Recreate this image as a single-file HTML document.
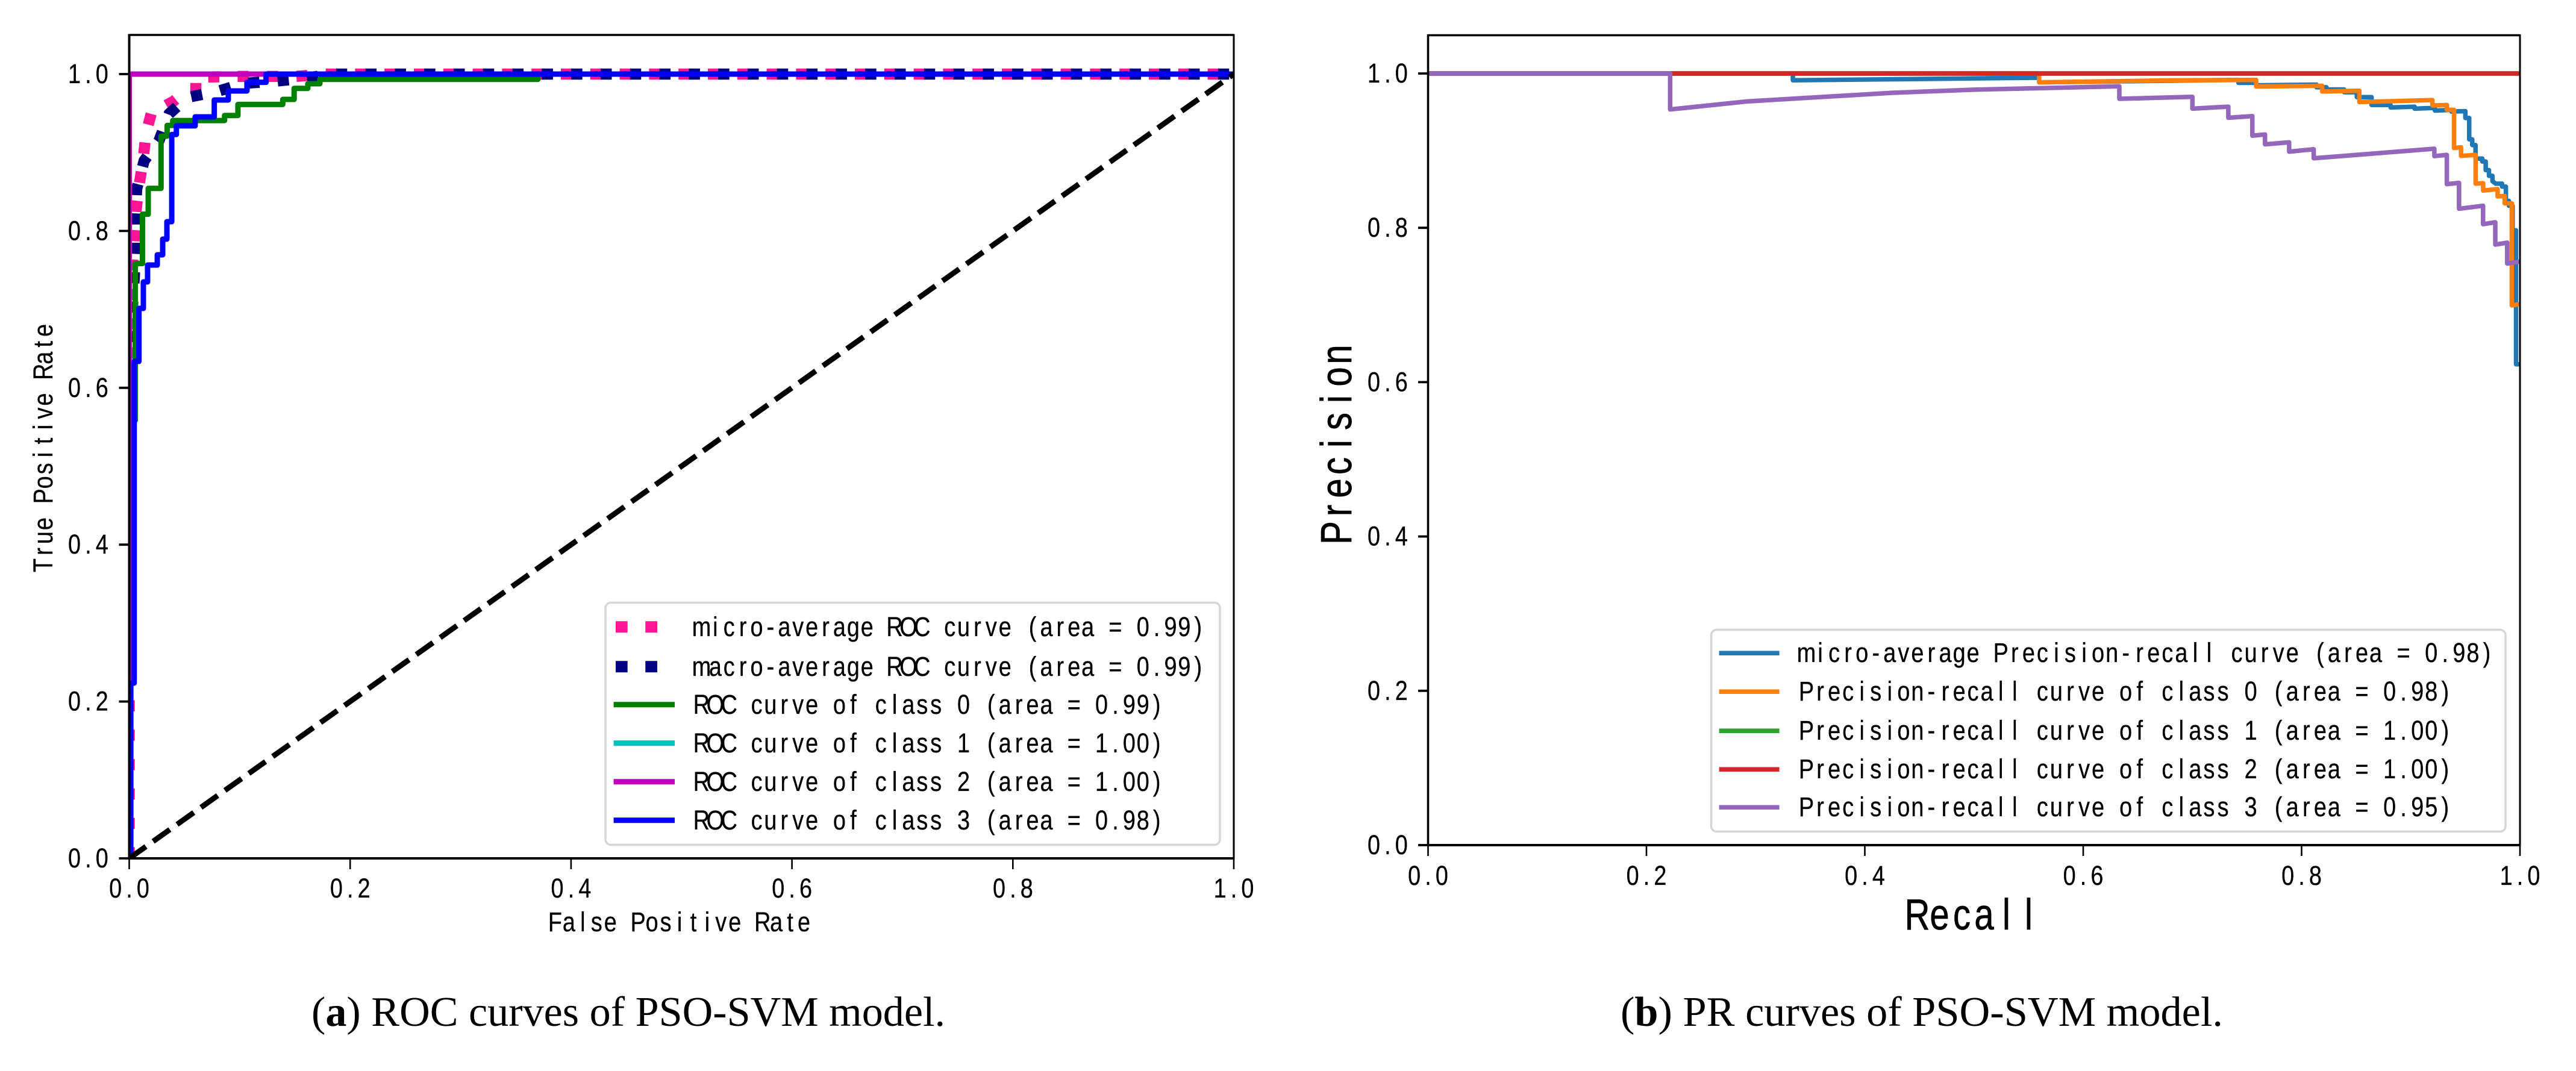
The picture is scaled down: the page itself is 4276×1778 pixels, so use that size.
<!DOCTYPE html>
<html>
<head>
<meta charset="utf-8">
<title>ROC and PR curves of PSO-SVM model</title>
<style>
html,body{margin:0;padding:0;background:#fff;}
svg{display:block;}
text{white-space:pre;fill:#000;}
</style>
</head>
<body>
<svg id="figure" xmlns="http://www.w3.org/2000/svg" width="4276" height="1778" viewBox="0 0 4276 1778">
<defs>
<clipPath id="roc-clip"><rect x="214.5" y="58" width="1833.5" height="1367"/></clipPath>
<clipPath id="pr-clip"><rect x="2370.5" y="58" width="1812.5" height="1345"/></clipPath>
</defs>
<rect width="4276" height="1778" fill="#fff"/>
<g id="roc-chart"></g>
<g id="pr-chart"></g>
<text x="517" y="1703" font-family="'Liberation Serif',serif" font-size="70" textLength="1052" lengthAdjust="spacingAndGlyphs">(<tspan font-weight="bold">a</tspan>) ROC curves of PSO-SVM model.</text>
<text x="2690" y="1703" font-family="'Liberation Serif',serif" font-size="70" textLength="1000" lengthAdjust="spacingAndGlyphs">(<tspan font-weight="bold">b</tspan>) PR curves of PSO-SVM model.</text>
</svg>
<script>
// ---------- chart data ----------
const tickValues = [0, 0.2, 0.4, 0.6, 0.8, 1.0];
const tickLabels = ['0.0', '0.2', '0.4', '0.6', '0.8', '1.0'];

const diagFpr = [0, 1];
const diagTpr = [0, 1];

const microFpr = [0, 0, .0014, .003, .0046, .0063, .009, .0128, .015, .0205, .0303, .0401, .0548, .0706, .0706, .0974, .1241, .1503, .1775, 1];
const microTpr = [0, .6797, .7181, .755, .7926, .8272, .8587, .8925, .924, .9524, .9578, .9654, .9816, .9816, .9962, .997, .997, .997, 1, 1];

const macroFpr = [0, .0008, .0019, .003, .0046, .0057, .0057, .0067, .0135, .027, .0361, .0526, .0788, .1043, .1312, .1577, .185, 1];
const macroTpr = [.546, .6336, .6682, .7043, .7404, .778, .8157, .8533, .8896, .9153, .9493, .9703, .9775, .9882, .9908, .9946, 1, 1];

const class0Fpr = [0, .0014, .0014, .0055, .0055, .012, .012, .0172, .0172, .0288, .0288, .0343, .0343, .0394, .0394, .0863, .0863, .0984, .0984, .139, .139, .1493, .1493, .1617, .1617, .1726, .1726, .37, .37, 1];
const class0Tpr = [0, 0, .5584, .5584, .7584, .7584, .8213, .8213, .8543, .8543, .9209, .9209, .9345, .9345, .9408, .9408, .9472, .9472, .9613, .9613, .9677, .9677, .9818, .9818, .9877, .9877, .9933, .9933, 1, 1];

const class1Fpr = [0, 0, 1];
const class1Tpr = [0, 1, 1];

const class2Fpr = [0, 0, 1];
const class2Tpr = [0, 1, 1];

const class3Fpr = [0, .0014, .0014, .0045, .0045, .0088, .0088, .0128, .0128, .0166, .0166, .0254, .0254, .0303, .0303, .0341, .0341, .0385, .0385, .0427, .0427, .0597, .0597, .077, .077, .0897, .0897, .1066, .1066, .1239, .1239, 1];
const class3Tpr = [0, 0, .2235, .2235, .6336, .6336, .7012, .7012, .735, .735, .7565, .7565, .7696, .7696, .7896, .7896, .8118, .8118, .923, .923, .934, .934, .9455, .9455, .967, .967, .9785, .9785, .9895, .9895, 1, 1];

const prMicroRecall = [0, .3341, .3341, .5596, .5596, .7422, .7422, .7584, .7584, .8137, .8137, .8227, .8227, .839, .839, .8506, .8506, .8641, .8641, .8815, .8815, .9035, .9035, .9221, .9221, .9372, .9372, .95, .95, .9535, .9535, .9563, .9563, .9593, .9593, .9655, .9655, .9686, .9686, .9716, .9716, .9748, .9748, .9778, .9836, .9836, .9871, .9871, .9899, .9899, .9932, .9932, .9964, .9964, 1];
const prMicroPrecision = [1, 1, .9912, .9945, .9885, .9917, .9879, .9879, .9847, .9856, .9821, .9821, .9793, .9793, .9757, .9757, .9694, .9694, .9592, .9592, .956, .957, .9544, .9554, .9519, .9528, .9506, .9512, .9423, .9423, .9146, .9146, .9073, .9073, .8897, .8897, .8859, .8859, .8748, .8748, .8674, .8674, .8604, .8572, .8572, .8534, .8534, .8349, .8349, .8286, .8286, .7967, .7967, .6231, .6231];

const prClass0Recall = [0, .5596, .5596, .6783, .7584, .7584, .8188, .8188, .8529, .8529, .9198, .9198, .9331, .9331, .9396, .9396, .946, .946, .9594, .9594, .9663, .9663, .9795, .9795, .986, .986, .9925, .9925, 1];
const prClass0Precision = [1, 1, .9885, .9911, .9917, .9831, .9841, .9767, .9777, .963, .9656, .9585, .9592, .9529, .9529, .9034, .9044, .8932, .8945, .8572, .8578, .8483, .8502, .8407, .8413, .8317, .8317, .6995, .7011];

const prClass1Recall = [0, 1];
const prClass1Precision = [1, 1];

const prClass2Recall = [0, 1];
const prClass2Precision = [1, 1];

const prClass3Recall = [0, .2217, .2217, .2921, .4257, .5, .6331, .6331, .7, .7, .7329, .7329, .7549, .7549, .7665, .7665, .7886, .7886, .8111, .8111, .9216, .9216, .933, .933, .9442, .9442, .9662, .9662, .9774, .9774, .9883, .9883, 1];
const prClass3Precision = [1, 1, .9534, .9638, .975, .979, .9834, .9672, .9697, .9544, .957, .9426, .9448, .9194, .921, .9082, .9108, .8987, .9018, .8901, .9025, .8929, .8945, .8566, .8582, .8247, .8286, .8047, .8072, .7782, .7808, .7537, .7562];

// ---------- axis functions ----------
const rocX = v => 214.5 + v * 1833.5;
const rocY = v => 1425 - v * 1302;
const prX = v => 2370.5 + v * 1812.5;
const prY = v => 1403 - v * 1281;

// ---------- drawing helpers ----------
const NS = 'http://www.w3.org/2000/svg';
const SANS = "'Liberation Sans','DejaVu Sans',sans-serif";

function monoText(str, x, y, pitch, size, sx, rot, heavy) {
  const t = document.createElementNS(NS, 'text');
  const xs = Array.from(str).map((c, i) => ((i + 0.5) * pitch / sx).toFixed(2)).join(' ');
  t.setAttribute('x', xs);
  t.setAttribute('y', '0');
  t.setAttribute('transform', 'translate(' + x + ' ' + y + ') rotate(' + rot + ') scale(' + sx + ' 1)');
  t.setAttribute('text-anchor', 'middle');
  t.setAttribute('font-family', SANS);
  t.setAttribute('font-size', size);
  t.setAttribute('stroke', '#000');
  t.setAttribute('stroke-width', heavy);
  t.textContent = str;
  return t;
}

function seg(x1, y1, x2, y2, color, width) {
  const l = document.createElementNS(NS, 'line');
  l.setAttribute('x1', x1);
  l.setAttribute('y1', y1);
  l.setAttribute('x2', x2);
  l.setAttribute('y2', y2);
  l.setAttribute('stroke', color);
  l.setAttribute('stroke-width', width);
  return l;
}

function curve(xs, ys, sx, sy, color, width, dash) {
  const p = document.createElementNS(NS, 'path');
  const d = xs.map((v, i) => (i ? 'L' : 'M') + sx(v).toFixed(2) + ' ' + sy(ys[i]).toFixed(2)).join(' ');
  p.setAttribute('d', d);
  p.setAttribute('fill', 'none');
  p.setAttribute('stroke', color);
  p.setAttribute('stroke-width', width);
  p.setAttribute('stroke-linejoin', dash ? 'miter' : 'round');
  p.setAttribute('stroke-linecap', dash ? 'butt' : 'round');
  if (dash) p.setAttribute('stroke-dasharray', dash);
  return p;
}

function clipGroup(parent, id) {
  const g = document.createElementNS(NS, 'g');
  g.setAttribute('clip-path', 'url(#' + id + ')');
  parent.appendChild(g);
  return g;
}

function legendBox(x, y, w, h) {
  const r = document.createElementNS(NS, 'rect');
  r.setAttribute('x', x);
  r.setAttribute('y', y);
  r.setAttribute('width', w);
  r.setAttribute('height', h);
  r.setAttribute('rx', 9);
  r.setAttribute('fill', '#fff');
  r.setAttribute('stroke', '#d6d6d6');
  r.setAttribute('stroke-width', 3.5);
  return r;
}

const PITCH = 22.9, FS = 45, SX = 0.84, HEAVY = 0.35;

// ---------- ROC chart ----------
const roc = document.getElementById('roc-chart');
const rocPlot = clipGroup(roc, 'roc-clip');



let el;
el = curve(microFpr, microTpr, rocX, rocY, '#ff1493', 18.5, '18.5 30.3');


rocPlot.appendChild(el);

el = curve(macroFpr, macroTpr, rocX, rocY, '#000080', 18.5, '18.5 30.3');


rocPlot.appendChild(el);

el = curve(class0Fpr, class0Tpr, rocX, rocY, '#008000', 9);


rocPlot.appendChild(el);

el = curve(class1Fpr, class1Tpr, rocX, rocY, '#00bfbf', 9);


rocPlot.appendChild(el);

el = curve(class2Fpr, class2Tpr, rocX, rocY, '#bf00bf', 9);


rocPlot.appendChild(el);

el = curve(class3Fpr, class3Tpr, rocX, rocY, '#0000ff', 9);


rocPlot.appendChild(el);

el = curve(diagFpr, diagTpr, rocX, rocY, '#000', 9, '34 14.7');


rocPlot.appendChild(el);

// ROC frame
el = seg(214.5, 58, 2048, 58, '#000', 3.5);


roc.appendChild(el);
el = seg(214.5, 1425, 2048, 1425, '#000', 4);


roc.appendChild(el);
el = seg(214.5, 56.5, 214.5, 1427, '#000', 4);


roc.appendChild(el);
el = seg(2048, 56.5, 2048, 1427, '#000', 3);


roc.appendChild(el);

tickValues.forEach((v, i) => {
  let e = seg(rocX(v), 1425, rocX(v), 1443, '#000', 2.6);
  
  
  roc.appendChild(e);
  e = monoText(tickLabels[i], rocX(v) - 34.3, 1490, PITCH, FS, SX, 0, HEAVY);
  
  
  roc.appendChild(e);
  e = seg(197.5, rocY(v), 214.5, rocY(v), '#000', 3.8);
  
  
  roc.appendChild(e);
  e = monoText(tickLabels[i], 112, rocY(v) + 15, PITCH, FS, SX, 0, HEAVY);
  
  
  roc.appendChild(e);
});

el = monoText('False Positive Rate', 910, 1546, 22.95, FS, SX, 0, HEAVY);


roc.appendChild(el);
el = monoText('True Positive Rate', 87, 950, 22.95, FS, SX, -90, HEAVY);


roc.appendChild(el);

// ROC legend
const rocLegend = document.createElementNS(NS, 'g');


roc.appendChild(rocLegend);
rocLegend.appendChild(legendBox(1005, 1000.5, 1020, 402));

const rocLegendLabels = [
  'micro-average ROC curve (area = 0.99)',
  'macro-average ROC curve (area = 0.99)',
  'ROC curve of class 0 (area = 0.99)',
  'ROC curve of class 1 (area = 1.00)',
  'ROC curve of class 2 (area = 1.00)',
  'ROC curve of class 3 (area = 0.98)'
];
const rocLegendColors = ['#ff1493', '#000080', '#008000', '#00bfbf', '#bf00bf', '#0000ff'];
const rocLegendBaselines = [1056, 1122, 1185, 1249, 1313, 1377];
rocLegendLabels.forEach((lab, i) => {
  const cy = rocLegendBaselines[i] - 15.3;
  let h;
  if (i < 2) {
    h = seg(1022, cy, 1091.5, cy, rocLegendColors[i], 19);
    h.setAttribute('stroke-dasharray', '19.7 29.6');
  } else {
    h = seg(1018.6, cy, 1120, cy, rocLegendColors[i], 9);
  }
  
  
  rocLegend.appendChild(h);
  const t = monoText(lab, 1153, rocLegendBaselines[i], 22.9, FS, SX, 0, HEAVY);
  
  
  rocLegend.appendChild(t);
});

// ---------- PR chart ----------
const pr = document.getElementById('pr-chart');
const prPlot = clipGroup(pr, 'pr-clip');



el = curve(prMicroRecall, prMicroPrecision, prX, prY, '#1f77b4', 7.5);


prPlot.appendChild(el);

el = curve(prClass0Recall, prClass0Precision, prX, prY, '#ff7f0e', 7.5);


prPlot.appendChild(el);

el = curve(prClass1Recall, prClass1Precision, prX, prY, '#2ca02c', 7.5);


prPlot.appendChild(el);

el = curve(prClass2Recall, prClass2Precision, prX, prY, '#d62728', 7.5);


prPlot.appendChild(el);

el = curve(prClass3Recall, prClass3Precision, prX, prY, '#9467bd', 7.5);


prPlot.appendChild(el);

// PR frame
el = seg(2370.5, 58.5, 4183, 58.5, '#000', 3.5);


pr.appendChild(el);
el = seg(2370.5, 1403, 4183, 1403, '#000', 4);


pr.appendChild(el);
el = seg(2370.5, 57, 2370.5, 1405, '#000', 3.6);


pr.appendChild(el);
el = seg(4183, 57, 4183, 1405, '#000', 3);


pr.appendChild(el);

tickValues.forEach((v, i) => {
  let e = seg(prX(v), 1403, prX(v), 1421, '#000', 2.6);
  
  
  pr.appendChild(e);
  e = monoText(tickLabels[i], prX(v) - 34.3, 1469, PITCH, FS, SX, 0, HEAVY);
  
  
  pr.appendChild(e);
  e = seg(2354, prY(v), 2370.5, prY(v), '#000', 3.8);
  
  
  pr.appendChild(e);
  e = monoText(tickLabels[i], 2269, prY(v) + 15, PITCH, FS, SX, 0, HEAVY);
  
  
  pr.appendChild(e);
});

el = monoText('Recall', 3164, 1543, 37, 72.5, 0.8, 0, 0.8);


pr.appendChild(el);
el = monoText('Precision', 2243, 903, 37, 72.5, 0.8, -90, 0.8);


pr.appendChild(el);

// PR legend
const prLegend = document.createElementNS(NS, 'g');


pr.appendChild(prLegend);
prLegend.appendChild(legendBox(2840.5, 1045.5, 1318.5, 335));

const prLegendLabels = [
  'micro-average Precision-recall curve (area = 0.98)',
  'Precision-recall curve of class 0 (area = 0.98)',
  'Precision-recall curve of class 1 (area = 1.00)',
  'Precision-recall curve of class 2 (area = 1.00)',
  'Precision-recall curve of class 3 (area = 0.95)'
];
const prLegendColors = ['#1f77b4', '#ff7f0e', '#2ca02c', '#d62728', '#9467bd'];
const prLegendBaselines = [1099, 1163, 1228, 1292, 1355];
prLegendLabels.forEach((lab, i) => {
  const cy = prLegendBaselines[i] - 14.7;
  const h = seg(2853.6, cy, 2953.6, cy, prLegendColors[i], 7.5);
  
  
  prLegend.appendChild(h);
  const t = monoText(lab, 2987, prLegendBaselines[i], 23.05, FS, SX, 0, HEAVY);
  
  
  prLegend.appendChild(t);
});
</script>
</body>
</html>
